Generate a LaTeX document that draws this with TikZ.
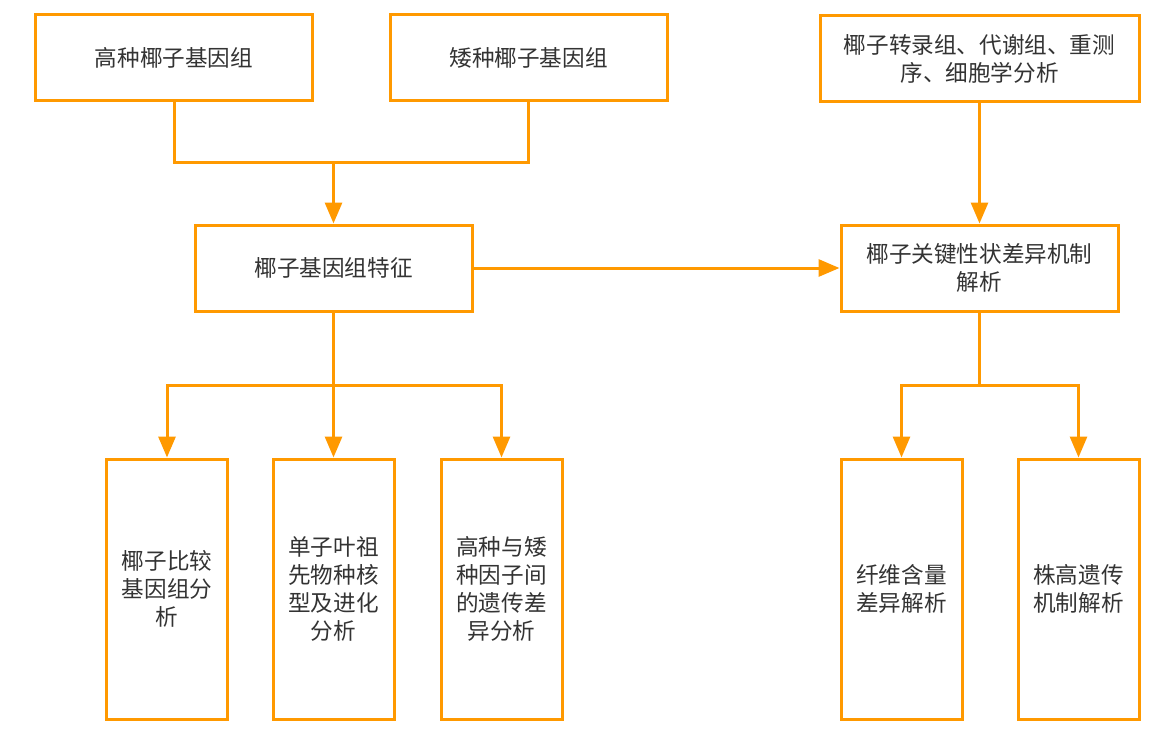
\documentclass[tikz,border=0pt]{standalone}
\usepackage{fontspec}
\setmainfont{Noto Sans CJK SC}
\usetikzlibrary{arrows.meta,calc}
\definecolor{boxorange}{HTML}{FF9900}
\definecolor{txtgray}{HTML}{333333}

\begin{document}
\begin{tikzpicture}[x=0.5pt,y=-0.5pt,
    box/.style={draw=boxorange,line width=1.5pt,text=txtgray,align=center,
      font=\fontsize{11.3}{14}\selectfont,inner sep=0pt},
    wide/.style={box,minimum width=138.5pt,minimum height=43pt},
    tall/.style={box,minimum width=60.5pt,minimum height=130pt},
    link/.style={draw=boxorange,line width=1.5pt},
    arr/.style={link,-{Triangle[length=10.5pt,width=8.5pt]}}]
    \useasboundingbox (0,0) rectangle (1176,738);

    % top row
    \node [wide] (tall1) at (174,58) {高种椰子基因组};
    \node [wide] (dwarf) at (528.5,58) {矮种椰子基因组};
    \node [wide,minimum width=159.5pt] (omics) at (979.5,58.5) {椰子转录组、代谢组、重测\\序、细胞学分析};
    % middle row
    \node [wide] (genome) at (333.5,268) {椰子基因组特征};
    \node [wide] (trait) at (979.5,268) {椰子关键性状差异机制\\解析};
    % bottom row
    \node [tall] (comp) at (167,589) {椰子比较\\基因组分\\析};
    \node [tall] (karyo) at (333.5,589) {单子叶祖\\先物种核\\型及进化\\分析};
    \node [tall] (diff) at (501.5,589) {高种与矮\\种因子间\\的遗传差\\异分析};
    \node [tall] (fiber) at (901.5,589) {纤维含量\\差异解析};
    \node [tall] (height) at (1078.5,589) {株高遗传\\机制解析};

    \coordinate (merge) at (333.5,162);
    \coordinate (splitL) at (333.5,385);
    \coordinate (splitR) at (979.5,385);

    \draw [link] (tall1.south) |- (merge) -| (dwarf.south);
    \draw [arr] (merge) -- (genome.north);
    \draw [arr] (omics.south) -- (trait.north);
    \draw [arr] (genome.east) -- (trait.west);

    \draw [link] (genome.south) -- (splitL);
    \draw [arr] (splitL) -| (comp.north);
    \draw [arr] (splitL) -- (karyo.north);
    \draw [arr] (splitL) -| (diff.north);

    \draw [link] (trait.south) -- (splitR);
    \draw [arr] (splitR) -| (fiber.north);
    \draw [arr] (splitR) -| (height.north);
\end{tikzpicture}
\end{document}
